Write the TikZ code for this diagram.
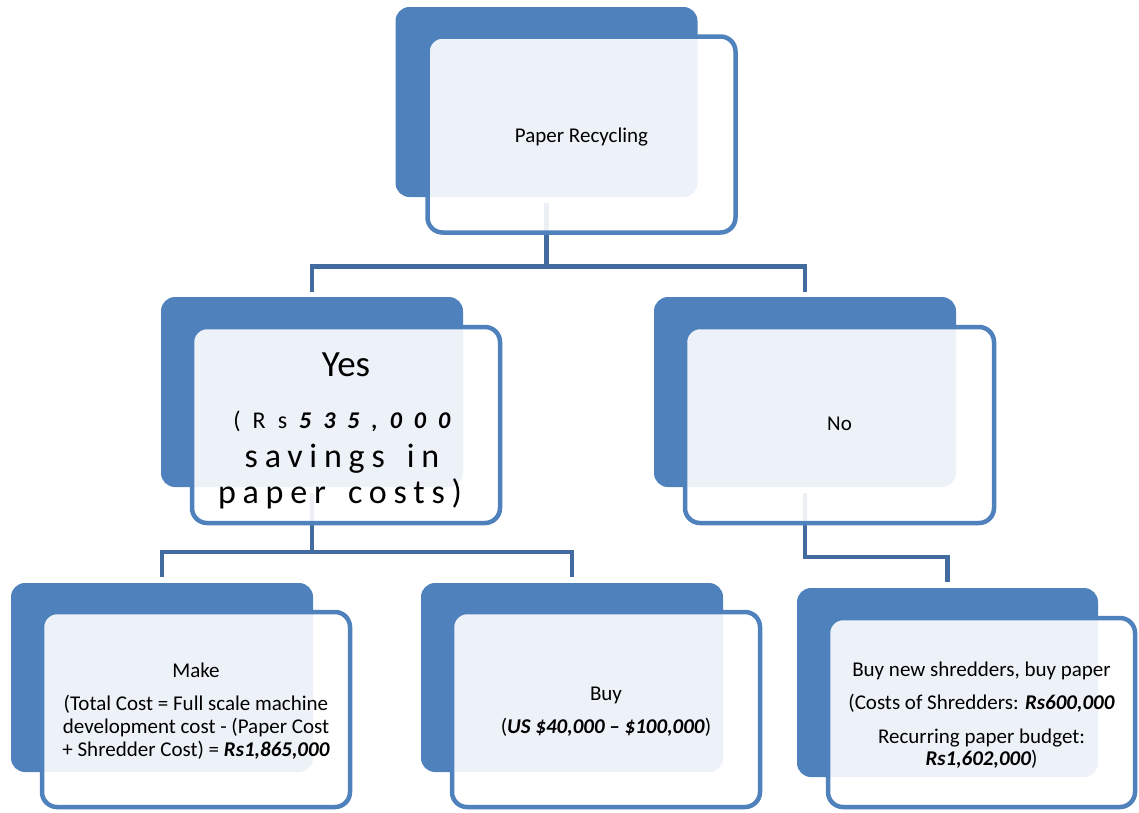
\documentclass[tikz,border=0pt]{standalone}
\usepackage{fontspec}
\setmainfont{Carlito}
\newfontfamily\spacedA[LetterSpace=50]{Carlito}
\newfontfamily\spacedB[LetterSpace=20]{Carlito}
\definecolor{acc}{HTML}{4F81BD}
\definecolor{linkc}{RGB}{66,108,160}
% lower the ink of a block by #1 without changing its box
\newcommand{\lowerby}[2]{\raisebox{-#1}[\height][\depth]{\begin{tabular}{@{}c@{}}#2\end{tabular}}}
\tikzset{
  backbox/.style={fill=acc, draw=none, rounded corners=14pt, minimum width=302pt, minimum height=190pt, inner sep=0pt},
  frontbox/.style={draw=acc, line width=4.5pt, fill=white, fill opacity=0.9, text opacity=1, rounded corners=15pt, minimum width=308pt, minimum height=196pt, font=\fontsize{21}{23}\selectfont, inner sep=2pt},
  link/.style={draw=linkc, line width=4.5pt},
  yestext/.style={anchor=base, inner sep=0pt},
}
\begin{document}
\begin{tikzpicture}[x=1pt,y=-1pt]
\useasboundingbox (0,0) rectangle (1139,812);
% back boxes
\node[backbox] (topD) at (546.5,102) {};
\node[backbox] (yesD) at (312,392) {};
\node[backbox] (noD) at (805,392) {};
\node[backbox, minimum height=189pt] (makeD) at (162,677.5) {};
\node[backbox, minimum height=189pt] (buyD) at (572,677.5) {};
\node[backbox, minimum height=189pt, minimum width=301pt] (shredD) at (947.5,682.5) {};
% connectors
\coordinate (j1) at (546.5,266.5);
\coordinate (j2) at (312,552);
\draw[link] ([yshift=-6pt]topD.south) -- (j1);
\draw[link] (j1) -| ([yshift=5pt]yesD.north);
\draw[link] (j1) -| ([yshift=5pt]noD.north);
\draw[link] ([yshift=-6pt]yesD.south) -- (j2);
\draw[link] (j2) -| ([yshift=6pt]makeD.north);
\draw[link] (j2) -| ([yshift=6pt]buyD.north);
\draw[link] ([yshift=-6pt]noD.south) -- ++(0,64) -| ([yshift=6pt]shredD.north);
% front boxes
\node[frontbox] (topF) at (581.5,134.5) {\lowerby{3pt}{Paper Recycling}};
\node[frontbox] (yesF) at (346,425) {};
\node[frontbox, minimum width=309pt] (noF) at (839.5,425) {\lowerby{1pt}{No}};
\node[frontbox, minimum height=195pt] (makeF) at (196,709.5) {\lowerby{3pt}{Make\\[10pt](Total Cost = Full scale machine\\development cost - (Paper Cost\\+ Shredder Cost) = \textbf{\textit{Rs1,865,000}}}};
\node[frontbox, minimum height=195pt] (buyF) at (606,709.5) {\lowerby{3pt}{Buy\\[10pt](\textbf{\textit{US \$40,000 – \$100,000}})}};
\node[frontbox, minimum height=189pt, minimum width=307pt] (shredF) at (981.5,712.5) {\lowerby{4pt}{Buy new shredders, buy paper\\[10pt](Costs of Shredders: \textbf{\textit{Rs600,000}}\\[11pt]Recurring paper budget:\\[-1pt]\textbf{\textit{Rs1,602,000}})}};
% Yes box text
\node[yestext, font=\fontsize{37}{40}\selectfont] (yesT1) at (346,376) {Yes};
\node[yestext, font=\spacedA\fontsize{24}{26}\selectfont] (yesT2) at (348,428) {(Rs\textbf{\textit{535,000}}};
\node[yestext, font=\spacedB\fontsize{34}{36}\selectfont] (yesT3) at (342,467) {savings\hspace{22pt}in};
\node[yestext, font=\spacedB\fontsize{34}{36}\selectfont] (yesT4) at (340,503) {paper\hspace{22pt}costs)};
\end{tikzpicture}
\end{document}
